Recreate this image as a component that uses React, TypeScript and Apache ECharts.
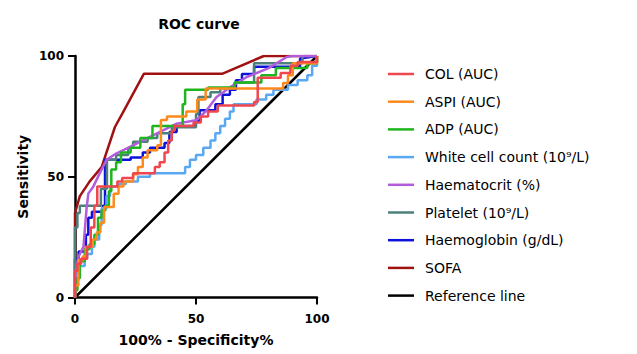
import React, { useEffect, useRef } from "react";
import * as echarts from "echarts";

const seriesNames = [
  "COL (AUC)",
  "ASPI (AUC)",
  "ADP (AUC)",
  "White cell count (10⁹/L)",
  "Haematocrit (%)",
  "Platelet (10⁹/L)",
  "Haemoglobin (g/dL)",
  "SOFA",
  "Reference line",
];
const seriesColors = ["#f0474f", "#ff8a1c", "#1fb51f", "#5aa8f2", "#b35ddb", "#4b807b", "#0c12dc", "#a01212", "#000000"];

const colData = [[0,0],[0,11],[1,11],[1,14],[2.5,14],[2.5,16],[5,16],[5,21],[6.5,21],[6.5,29],[8,29],[8,38],[9.2,38],[9.2,46],[17.5,46],[17.5,48],[19.5,48],[19.5,49.5],[24,49.5],[24,51.5],[33,51.5],[33,54],[35,54],[35,56],[37,56],[37,60],[38.5,60],[38.5,65],[40,65],[40,69],[41,69],[41,71],[49,71],[49,72.5],[52,72.5],[52,75],[55,75],[55,77],[59,77],[59,79.5],[74,79.5],[74,81],[75.5,81],[75.5,91],[85,91],[85,93],[89,93],[89,96],[92,96],[92,97.5],[100,97.5],[100,100]];
const aspiData = [[0,0],[0,5],[1.4,5],[1.4,15.5],[3.2,15.5],[3.2,17],[4.5,17],[4.5,21],[7.3,21],[7.3,24],[9,24],[9,27],[10.5,27],[10.5,31],[12,31],[12,37.5],[16,37.5],[16,43],[18,43],[18,46],[20,46],[20,48],[24,48],[24,51],[26,51],[26,54],[28,54],[28,58],[30,58],[30,61],[34,61],[34,63],[35.5,63],[35.5,73.5],[38,73.5],[38,75],[46,75],[46,77],[50.5,77],[50.5,82],[54,82],[54,86.5],[86,86.5],[86,88.8],[88,88.8],[88,92],[90,92],[90,97],[100,97],[100,100]];
const adpData = [[0,0],[0,3],[1,3],[1,8],[2,8],[2,15],[4,15],[4,20],[6,20],[6,22],[8,22],[8,26],[9.5,26],[9.5,33],[11,33],[11,36],[12.5,36],[12.5,38],[14,38],[14,44],[15,44],[15,53],[17,53],[17,56],[19,56],[19,60],[23,60],[23,62],[27,62],[27,66],[32,66],[32,71],[44.5,71],[44.5,80],[45.5,80],[45.5,86],[55,86],[55,87],[66,87],[66,89],[77,89],[77,92],[83,92],[83,95],[96,95],[96,97],[100,97],[100,100]];
const wbcData = [[0,0],[0,10],[1,10],[1,13],[4,13],[4,16],[5,16],[5,18],[7,18],[7,21],[8,21],[8,24],[10,24],[10,30],[11,30],[11,37],[13,37],[13,42],[14.5,42],[14.5,46],[18,46],[18,47],[21,47],[21,48],[26,48],[26,50],[31,50],[31,51.5],[45.5,51.5],[45.5,54],[47.5,54],[47.5,57],[50,57],[50,59],[53,59],[53,62],[56,62],[56,65],[58,65],[58,68],[60,68],[60,71],[62,71],[62,74],[64,74],[64,77],[65.5,77],[65.5,80],[75,80],[75,82],[79,82],[79,84],[82,84],[82,86],[88,86],[88,88],[92,88],[92,90],[96,90],[96,92],[98,92],[98,96],[100,96],[100,100]];
const haematocritData = [[0,0],[0.5,12],[1.5,17],[3.5,21],[4.8,37],[5.5,43],[7.6,46],[10,51],[13,57],[17,59.6],[24,63],[31,66.5],[37,69.5],[42,72],[50,73.4],[54,77],[58.5,83],[64,87],[71,91.3],[80,95],[87.5,99.6],[90,100],[100,100]];
const plateletData = [[0,0],[0,29],[1,29],[1,35],[2,35],[2,38],[10.7,38],[10.7,45],[13.2,45],[13.2,57],[17,57],[17,59],[22,59],[22,62],[24,62],[24,64.5],[30,64.5],[30,66],[34,66],[34,68],[40,68],[40,70.5],[50,70.5],[50,76],[51,76],[51,83],[56,83],[56,85],[60,85],[60,86.5],[66,86.5],[66,89],[74,89],[74,97],[94,97],[94,100],[100,100]];
const haemoglobinData = [[0,0],[0,16],[1.5,16],[1.5,19],[4.5,19],[4.5,26],[5.5,26],[5.5,33],[7,33],[7,35.5],[11.5,35.5],[11.5,38],[12.4,38],[12.4,57],[23,57],[23,58],[28,58],[28,60],[31,60],[31,62],[37,62],[37,64],[39,64],[39,68.5],[42,68.5],[42,71],[49.5,71],[49.5,73],[51.5,73],[51.5,77.5],[58,77.5],[58,80],[61,80],[61,84],[64,84],[64,86],[66.5,86],[66.5,90],[69,90],[69,92.5],[74,92.5],[74,95.5],[93,95.5],[93,99],[100,100]];
const sofaData = [[0,0],[0,35],[2,42],[6,48],[11,54],[16.5,70.6],[20,77],[28.5,92.7],[61,92.7],[78,100],[100,100]];
const referenceData = [[0,0],[100,100]];

const allData = [colData, aspiData, adpData, wbcData, haematocritData, plateletData, haemoglobinData, sofaData, referenceData];
const xTicks = [0, 50, 100];

export default function App() {
  const ref = useRef<HTMLDivElement>(null);
  useEffect(() => {
    if (!ref.current) return;
    const chart = echarts.init(ref.current, null, { renderer: "svg" });
    const series = seriesNames
      .map((name, i) => ({
        name,
        type: "line",
        data: allData[i],
        symbol: "none",
        lineStyle: { color: seriesColors[i], width: 2.5 },
        itemStyle: { color: seriesColors[i] },
        z: 10 - i,
      }))
      .reverse();
    chart.setOption({
      animation: false,
      backgroundColor: "#ffffff",
      title: {
        text: "ROC curve",
        left: 194,
        top: 12,
        textAlign: "center",
        textStyle: { fontFamily: "DejaVu Sans", fontWeight: "bold", fontSize: 14, color: "#000" },
      },
      legend: {
        data: seriesNames,
        orient: "vertical",
        left: 383,
        top: 62,
        icon: "rect",
        itemWidth: 26,
        itemHeight: 2.5,
        itemGap: 13.7,
        textStyle: {
          fontFamily: "DejaVu Sans",
          fontSize: 14,
          lineHeight: 14,
          color: "#000",
          padding: [0, 0, 0, 6],
        },
      },
      grid: { left: 75, right: 320, top: 56, bottom: 56.5, containLabel: false },
      xAxis: {
        type: "value",
        min: xTicks[0],
        max: xTicks[2],
        interval: 50,
        name: "100% - Specificity%",
        nameLocation: "middle",
        nameGap: 35,
        nameTextStyle: { fontFamily: "DejaVu Sans", fontWeight: "bold", fontSize: 14, color: "#000" },
        axisLine: { lineStyle: { color: "#000", width: 2.5 } },
        axisTick: { length: 7, lineStyle: { color: "#000", width: 2 } },
        axisLabel: { margin: 15, fontFamily: "DejaVu Sans", fontWeight: "bold", fontSize: 12, color: "#000" },
        splitLine: { show: false },
      },
      yAxis: {
        type: "value",
        min: 0,
        max: 100,
        interval: 50,
        name: "Sensitivity",
        nameLocation: "middle",
        nameGap: 45,
        nameTextStyle: { fontFamily: "DejaVu Sans", fontWeight: "bold", fontSize: 14, color: "#000" },
        axisLine: { lineStyle: { color: "#000", width: 2.5 } },
        axisTick: { length: 7, lineStyle: { color: "#000", width: 2 } },
        axisLabel: { margin: 11, fontFamily: "DejaVu Sans", fontWeight: "bold", fontSize: 12, color: "#000" },
        splitLine: { show: false },
      },
      series,
    });
    return () => chart.dispose();
  }, []);
  return <div ref={ref} style={{ position: "absolute", left: 0, top: 0, width: 637, height: 354 }} />;
}
